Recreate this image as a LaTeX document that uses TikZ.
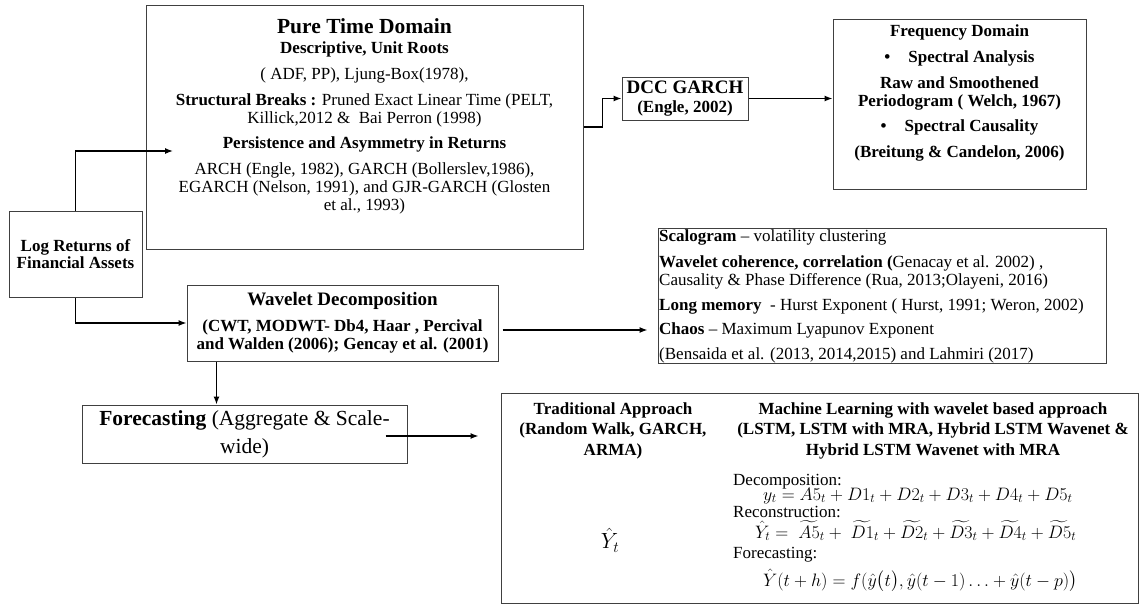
\RequirePackage{fix-cm}
\documentclass[tikz,border=0pt]{standalone}
\usepackage{amsmath}
\usepackage{fontspec}
\setmainfont{Liberation Serif}
\usepackage{tikz}
\usetikzlibrary{arrows.meta}

\begin{document}
\begin{tikzpicture}[x=1pt,y=-1pt,>={Latex[length=8pt,width=6pt]},
  box/.style={draw=black!75,line width=1pt,inner sep=0pt,align=center},
  txt/.style={inner sep=0pt,font=\fontsize{17}{18}\selectfont},
  link/.style={->,line width=1.3pt}]
  \useasboundingbox (0,0) rectangle (1140,605);

  % boxes
  \node[box,txt,font=\fontsize{17}{17}\selectfont\bfseries,minimum width=133pt,minimum height=86pt] (logret) at (75.5,254) {Log Returns of\\Financial Assets};
  \node[box,minimum width=437pt,minimum height=244pt] (pure) at (364.5,127) {};
  \node[box,txt,font=\fontsize{17}{19}\selectfont\bfseries,minimum width=126pt,minimum height=43pt] (dcc) at (685,98.5) {{\fontsize{19}{19}\selectfont DCC GARCH}\\(Engle, 2002)};
  \node[box,minimum width=253pt,minimum height=170pt] (freq) at (959.5,104) {};
  \node[box,txt,font=\fontsize{17}{18.5}\selectfont\bfseries,minimum width=311pt,minimum height=76pt] (wave) at (342.5,323) {{\fontsize{19}{19}\selectfont Wavelet Decomposition}\\[7pt](CWT, MODWT- Db4, Haar , Percival\\and Walden (2006); Gencay et al. (2001)};
  \node[box,minimum width=448pt,minimum height=135pt] (scalo) at (882,295.5) {};
  \node[box,txt,font=\fontsize{21.5}{28}\selectfont,minimum width=325pt,minimum height=58pt] (fcast) at (244.5,434) {\textbf{Forecasting} (Aggregate \& Scale-\\wide)};
  \node[box,minimum width=637pt,minimum height=210pt] (model) at (819.5,498) {};

  % texts
  \node[txt,align=center,anchor=north] (pureText) at (364.5,18) {{\fontsize{21.5}{24}\selectfont\bfseries Pure Time Domain}\\[2.6pt]
    \textbf{Descriptive, Unit Roots}\\[8pt]
    ( ADF, PP), Ljung-Box(1978),\\[8pt]
    \textbf{Structural Breaks :} Pruned Exact Linear Time (PELT,\\
    Killick,2012 \& \ Bai Perron (1998)\\[7pt]
    \textbf{Persistence and Asymmetry in Returns}\\[8pt]
    ARCH (Engle, 1982), GARCH (Bollerslev,1986),\\
    EGARCH (Nelson, 1991), and GJR-GARCH (Glosten\\
    et al., 1993)};
  \node[txt,align=center,anchor=north,font=\fontsize{17}{18}\selectfont\bfseries] (freqText) at (959.5,25) {Frequency Domain\\[8pt]
    \textbullet\hspace{18pt}Spectral Analysis\\[8pt]
    Raw and Smoothened\\
    Periodogram ( Welch, 1967)\\[7pt]
    \textbullet\hspace{18pt}Spectral Causality\\[8pt]
    (Breitung \& Candelon, 2006)};
  \node[txt,align=left,anchor=north west] (scaloText) at (659,229) {\textbf{Scalogram} -- volatility clustering\\[8pt]
    \textbf{Wavelet coherence, correlation (}Genacay et al. 2002) ,\\
    Causality \& Phase Difference (Rua, 2013;Olayeni, 2016)\\[7pt]
    \textbf{Long memory} \ - Hurst Exponent ( Hurst, 1991; Weron, 2002)\\[6pt]
    \textbf{Chaos} -- Maximum Lyapunov Exponent\\[7pt]
    (Bensaida et al. (2013, 2014,2015) and Lahmiri (2017)};
  \node[txt,align=center,anchor=north,font=\fontsize{17}{20.5}\selectfont\bfseries] (tradText) at (613,402) {Traditional Approach\\(Random Walk, GARCH,\\ARMA)};
  \node[txt,align=center,anchor=north,font=\fontsize{17}{20.5}\selectfont\bfseries] (mlText) at (933,402) {Machine Learning with wavelet based approach\\(LSTM, LSTM with MRA, Hybrid LSTM Wavenet \&\\Hybrid LSTM Wavenet with MRA};
  \node[txt,font=\fontsize{22}{24}\selectfont] (tradHat) at (610,540) {$\hat{Y}_t$};

  \foreach \xx/\yy/\eqtxt [count=\i] in {
    733/485/{Decomposition:},
    763/500/{\fontsize{18}{18}\selectfont$y_t = A5_t + D1_t + D2_t + D3_t + D4_t + D5_t$},
    733/517/{Reconstruction:},
    755/538/{\fontsize{18}{18}\selectfont$\hat{Y}_t = \;\widetilde{A5}_t + \;\widetilde{D1}_t + \widetilde{D2}_t + \widetilde{D3}_t + \widetilde{D4}_t + \widetilde{D5}_t$},
    733/558/{Forecasting:},
    763/586/{\fontsize{18}{18}\selectfont$\hat{Y}(t+h) = f(\hat{y}\big(t\big), \hat{y}(t-1)\ldots+\hat{y}(t-p)\big)$}}
    \node[txt,anchor=base west] (eq\i) at (\xx,\yy) {\eqtxt};

  % connectors
  \coordinate (pureIn) at (173,151);
  \draw[link] (logret.north) |- (pureIn);
  \draw[link] (logret.south) |- (wave.west);
  \draw[link] (pure.east) -- ++(19,0) |- (dcc.west);
  \draw[link] (dcc.east) -- (freq.west |- dcc.east);
  \draw[link,shorten <=4pt,shorten >=10pt] ([yshift=-7pt]wave.east) -- ([yshift=-7pt]wave.east -| scalo.west);
  \draw[link] ([xshift=30pt]wave.south west) -- ([xshift=30pt]wave.south west |- fcast.north);
  \draw[link] ([xshift=-22pt,yshift=-2pt]fcast.east) -- ([xshift=-22pt,yshift=-2pt]fcast.east -| model.west);
\end{tikzpicture}
\end{document}
